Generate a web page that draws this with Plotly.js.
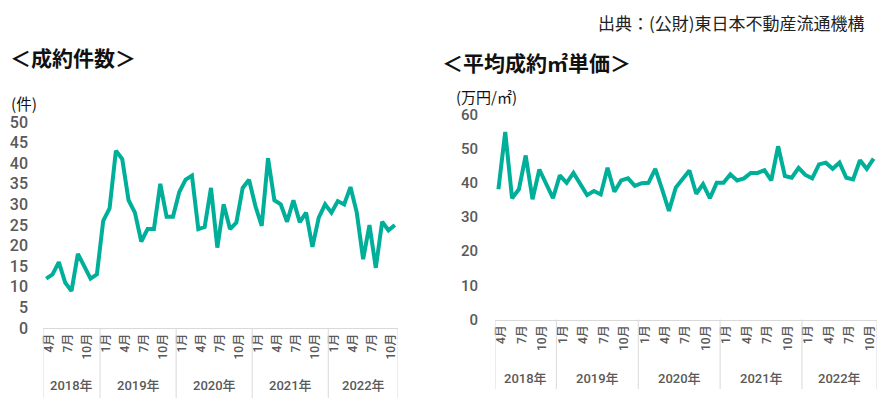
<!DOCTYPE html>
<html>
<head>
<meta charset="utf-8">
<script src="https://cdn.plot.ly/plotly-3.0.1.min.js"></script>
<style>
html,body{margin:0;padding:0;background:#fff;}
#chart{width:894px;height:414px;}
</style>
</head>
<body>
<div id="chart"></div>
<script>
// ---- data ----
var years = [2018, 2019, 2020, 2021, 2022];
var firstMonth = [4, 1, 1, 1, 1];
var lastMonth = [12, 12, 12, 12, 11];
var labeledMonths = [1, 4, 7, 10];

// 成約件数 (件) 2018年4月〜2022年11月
var countValues = [
  12, 13, 16, 11, 9, 18, 15, 12, 13,
  26, 29, 43, 41, 31, 28, 21, 24, 24, 35, 27, 27,
  33, 36, 37, 24, 24.5, 34, 19.5, 30, 24, 25.6, 34, 36,
  29.6, 24.8, 41.2, 31, 30, 25.8, 31, 25.7, 28, 19.7, 26.8, 30,
  28, 30.8, 30, 34.2, 28, 16.7, 25, 14.6, 25.8, 23.7, 25
];

// 平均成約㎡単価 (万円/㎡) 2018年4月〜2022年11月
var priceValues = [
  38.1, 54.9, 35.5, 38.1, 48, 35.2, 43.9, 39.6, 35.5,
  42.2, 40, 42.9, 39.6, 36.4, 37.6, 36.6, 44.4, 37.4, 40.7, 41.3, 39.1,
  39.9, 40, 44.1, 38.1, 31.8, 38.6, 41, 43.6, 36.8, 39.6, 35.5, 40,
  40, 42.5, 40.7, 41.3, 42.9, 42.9, 43.7, 40.7, 50.7, 42, 41.5, 44.4,
  42.3, 41.3, 45.4, 45.9, 44.1, 45.9, 41.5, 41, 46.6, 44.1, 47.1
];

var leftTitle = '＜成約件数＞';
var rightTitle = '＜平均成約㎡単価＞';
var leftUnit = '(件)';
var rightUnit = '(万円/㎡)';
var sourceText = '出典：(公財)東日本不動産流通機構';

// ---- categories ----
var categories = [], tickVals = [], tickText = [], yearStart = [], yearEnd = [];
years.forEach(function (y, i) {
  yearStart.push(categories.length);
  for (var m = firstMonth[i]; m <= lastMonth[i]; m++) {
    var c = y + '年' + m + '月';
    categories.push(c);
    if (labeledMonths.indexOf(m) >= 0) { tickVals.push(c); tickText.push(m + '月'); }
  }
  yearEnd.push(categories.length - 1);
});

var W = 894, H = 414;
function px(x) { return x / W; }
function py(y) { return 1 - y / H; }

var teal = '#00af99';
var gray = '#595959';
var lineGray = '#d9d9d9';
var numFont = 'Roboto, "Noto Sans CJK JP", sans-serif';
var jpFont = '"Noto Sans CJK JP", sans-serif';

var traces = [
  { x: categories, y: countValues, xaxis: 'x', yaxis: 'y', type: 'scatter', mode: 'lines',
    line: { color: teal, width: 4 }, hoverinfo: 'x+y' },
  { x: categories, y: priceValues, xaxis: 'x2', yaxis: 'y2', type: 'scatter', mode: 'lines',
    line: { color: teal, width: 4 }, hoverinfo: 'x+y' }
];

function xAxis(domain) {
  return {
    domain: domain, type: 'category', categoryorder: 'array', categoryarray: categories,
    range: [-0.5, categories.length - 0.5], showgrid: false, zeroline: false,
    showline: true, linecolor: lineGray, linewidth: 1,
    tickmode: 'array', tickvals: tickVals, ticktext: tickText, tickangle: -90,
    ticks: '', ticklabelshift: 3,
    tickfont: { family: numFont, size: 12, color: gray, weight: 500 },
    fixedrange: true
  };
}

var layout = {
  width: W, height: H, margin: { l: 0, r: 0, t: 0, b: 0 },
  paper_bgcolor: '#fff', plot_bgcolor: '#fff', showlegend: false,
  xaxis: xAxis([px(43), px(398)]),
  xaxis2: Object.assign(xAxis([px(495), px(877)]), { anchor: 'y2' }),
  yaxis: {
    domain: [py(328), py(122)], range: [0, 50], dtick: 5, tick0: 0,
    showgrid: false, zeroline: false, showline: false, ticks: '',
    ticklabelstandoff: 14,
    tickfont: { family: numFont, size: 16, color: gray, weight: 500 }, fixedrange: true
  },
  yaxis2: {
    domain: [py(319.5), py(114.5)], range: [0, 60], dtick: 10, tick0: 0, anchor: 'x2',
    showgrid: false, zeroline: false, showline: false, ticks: '',
    ticklabelstandoff: 16,
    tickfont: { family: numFont, size: 15, color: gray, weight: 500 }, fixedrange: true
  },
  shapes: [],
  annotations: [
    { text: sourceText, xref: 'paper', yref: 'paper', x: px(596), y: py(22), xanchor: 'left', yanchor: 'middle',
      showarrow: false, font: { family: jpFont, size: 17, color: '#222' } },
    { text: '<b>' + leftTitle + '</b>', xref: 'paper', yref: 'paper', x: px(8), y: py(57), xanchor: 'left', yanchor: 'middle',
      showarrow: false, font: { family: jpFont, size: 21, color: '#111' } },
    { text: '<b>' + rightTitle + '</b>', xref: 'paper', yref: 'paper', x: px(440), y: py(62), xanchor: 'left', yanchor: 'middle',
      showarrow: false, font: { family: jpFont, size: 21, color: '#111' } },
    { text: leftUnit, xref: 'paper', yref: 'paper', x: px(9), y: py(103), xanchor: 'left', yanchor: 'middle',
      showarrow: false, font: { family: jpFont, size: 15.5, color: '#111' } },
    { text: rightUnit, xref: 'paper', yref: 'paper', x: px(455), y: py(96), xanchor: 'left', yanchor: 'middle',
      showarrow: false, borderpad: 0, font: { family: jpFont, size: 15, color: '#111' } }
  ]
};

// year dividers and labels
[['x', 398, 385], ['x2', 389, 378]].forEach(function (cfg) {
  var xr = cfg[0];
  var bounds = [yearStart[0] - 0.5];
  yearEnd.forEach(function (e) { bounds.push(e + 0.5); });
  bounds.forEach(function (b) {
    layout.shapes.push({ type: 'line', xref: xr, yref: 'paper', x0: b, x1: b,
      y0: py(xr === 'x' ? 328 : 319.5), y1: py(cfg[1]), line: { color: lineGray, width: 1 } });
  });
  years.forEach(function (y, i) {
    layout.annotations.push({ text: y + '年', xref: xr, yref: 'paper',
      x: (yearStart[i] + yearEnd[i]) / 2, y: py(cfg[2]), xanchor: 'center', yanchor: 'middle',
      showarrow: false, font: { family: numFont, size: 13, color: gray, weight: 500 } });
  });
});

Plotly.newPlot('chart', traces, layout, { staticPlot: true, displayModeBar: false });
</script>
</body>
</html>
